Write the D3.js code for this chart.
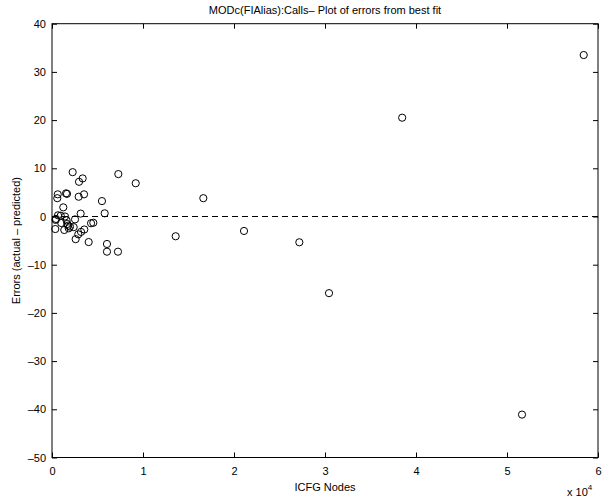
<!DOCTYPE html>
<html>
<head>
<meta charset="utf-8">
<script src="https://cdn.jsdelivr.net/npm/d3@7"></script>
<style>
  body { margin: 0; background: #fff; }
  text { font-family: "Liberation Sans", Arial, sans-serif; fill: #000; }
</style>
</head>
<body>
<div id="chart"></div>
<script>
// ICFG node counts and errors (actual - predicted)
var nodes = [58430, 38480, 51650, 30440, 27180, 21100, 16630, 13590, 9200, 7290,
             7250, 6040, 6040, 5790, 5490, 4030, 4540, 4290, 3550, 3190,
             2890, 2600, 3520, 2930, 3370, 2970, 2270, 1540, 1650, 630,
             580, 1240, 3150, 2530, 660, 960, 1430, 440, 1020, 1680,
             1980, 360, 1350, 2380, 1840, 390, 1600, 1780];
var errors = [33.5, 20.5, -41.1, -15.9, -5.35, -3.0, 3.8, -4.1, 6.9, 8.8,
              -7.3, -7.3, -5.7, 0.66, 3.2, -5.3, -1.3, -1.4, -2.7, -3.2,
              -3.7, -4.7, 4.6, 4.1, 7.9, 7.2, 9.2, 4.8, 4.7, 4.6,
              3.8, 1.9, 0.6, -0.6, 0.25, 0.17, 0.0, -0.5, -1.35, -1.55,
              -2.1, -2.6, -2.8, -2.2, -2.45, -0.7, -0.8, -1.9];
var xTicks = [0, 10000, 20000, 30000, 40000, 50000, 60000];
var yTicks = [-50, -40, -30, -20, -10, 0, 10, 20, 30, 40];

function drawChart() {
    var w = 610, h = 499;
    var mLeft = 52, mRight = 598, mTop = 23.7, mBottom = 457.5;

    var svg = d3.select("#chart").append("svg")
                .attr("width", w)
                .attr("height", h);

    var x = d3.scaleLinear().domain([0, 60000]).range([mLeft, mRight]);
    var y = d3.scaleLinear().domain([-50, 40]).range([mBottom, mTop]);

    var fmt = function(d) { return String(d).replace("-", "\u2013"); };

    // axes, ticks pointing inward on all four sides
    svg.append("g")
       .attr("transform", "translate(0," + mBottom + ")")
       .call(d3.axisBottom(x).tickValues(xTicks).tickSizeInner(-5).tickSizeOuter(0)
               .tickPadding(10).tickFormat(function(d) { return d / 10000; }));
    svg.append("g")
       .attr("transform", "translate(0," + mTop + ")")
       .call(d3.axisTop(x).tickValues(xTicks).tickSizeInner(-5).tickSizeOuter(0).tickFormat(""));
    svg.append("g")
       .attr("transform", "translate(" + mLeft + ",0)")
       .call(d3.axisLeft(y).tickValues(yTicks).tickSizeInner(-5).tickSizeOuter(0)
               .tickPadding(6).tickFormat(fmt));
    svg.append("g")
       .attr("transform", "translate(" + mRight + ",0)")
       .call(d3.axisRight(y).tickValues(yTicks).tickSizeInner(-5).tickSizeOuter(0).tickFormat(""));

    svg.selectAll(".tick text").attr("font-size", 11).attr("font-family", "Liberation Sans, Arial, sans-serif");
    svg.selectAll(".domain").remove();
    svg.selectAll(".tick line").attr("stroke", "#000");

    // box
    svg.append("rect")
       .attr("x", mLeft).attr("y", mTop)
       .attr("width", mRight - mLeft).attr("height", mBottom - mTop)
       .attr("fill", "none").attr("stroke", "#000").attr("stroke-width", 1);

    // zero line
    svg.append("line")
       .attr("x1", x(0)).attr("x2", x(60000))
       .attr("y1", y(0)).attr("y2", y(0))
       .attr("stroke", "#000")
       .attr("stroke-dasharray", "6,4");

    // points
    svg.selectAll("circle.pt")
       .data(nodes)
       .enter()
       .append("circle")
       .attr("class", "pt")
       .attr("cx", function(d) { return x(d); })
       .attr("cy", function(d, i) { return y(errors[i]); })
       .attr("r", 3.6)
       .attr("fill", "none")
       .attr("stroke", "#000")
       .attr("stroke-width", 1);

    // labels
    svg.append("text")
       .attr("x", (mLeft + mRight) / 2).attr("y", 14)
       .attr("text-anchor", "middle").attr("font-size", 11)
       .text("MODc(FIAlias):Calls\u2013 Plot of errors from best fit");

    svg.append("text")
       .attr("x", (mLeft + mRight) / 2).attr("y", 491)
       .attr("text-anchor", "middle").attr("font-size", 11)
       .text("ICFG Nodes");

    svg.append("text")
       .attr("transform", "translate(20," + ((mTop + mBottom) / 2) + ") rotate(-90)")
       .attr("text-anchor", "middle").attr("font-size", 11)
       .text("Errors (actual \u2013 predicted)");

    var mult = svg.append("text")
       .attr("x", 567).attr("y", 496)
       .attr("font-size", 11);
    mult.append("tspan").text("x 10");
    mult.append("tspan").attr("dy", -6).attr("font-size", 8).text("4");
}

drawChart();
</script>
</body>
</html>
